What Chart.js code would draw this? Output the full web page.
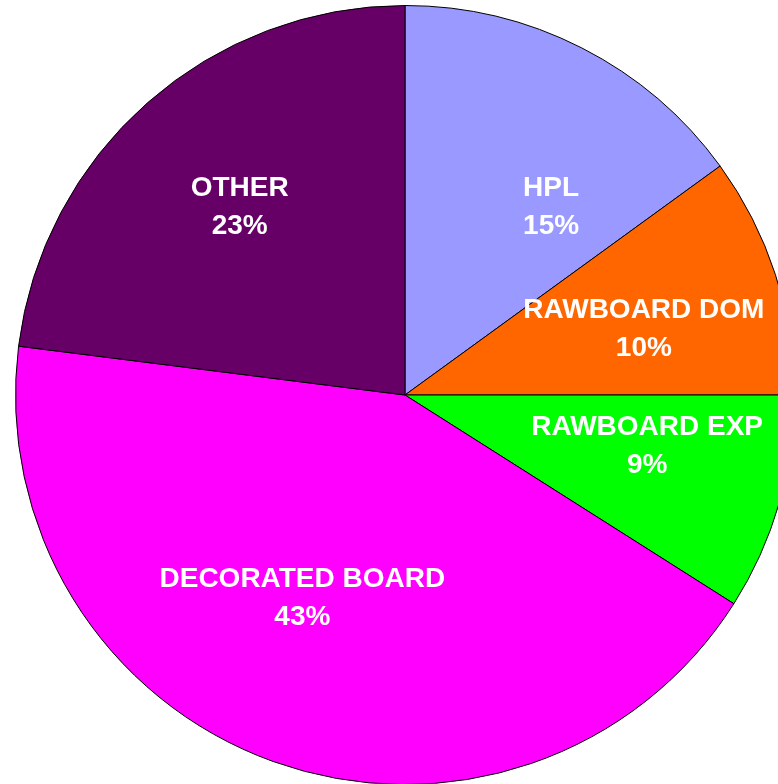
<!DOCTYPE html>
<html>
<head>
<meta charset="utf-8">
<script src="https://cdn.jsdelivr.net/npm/chart.js@4.4.0/dist/chart.umd.min.js"></script>
<style>
  html, body { margin: 0; padding: 0; background: #ffffff; overflow: hidden; width: 778px; height: 784px; }
  #wrap { position: absolute; left: 5px; top: -5px; width: 800px; height: 800px; }
</style>
</head>
<body>
<div id="wrap"><canvas id="pie" width="800" height="800"></canvas></div>
<script>
// 제품별 비중 (%)
const categories = ['HPL', 'RAWBOARD DOM', 'RAWBOARD EXP', 'DECORATED BOARD', 'OTHER'];
const shares = [15, 10, 9, 43, 23];
const sliceColors = ['#9999FF', '#FF6600', '#00FF00', '#FF00FF', '#660066'];

// 라벨 위치 미세 조정 (px)
const labelNudge = [[34, 32], [4, 11], [5, -18], [-19, -29], [-2, -2]];

// 조각 안쪽에 이름과 퍼센트를 두 줄로 그림
const sliceLabels = {
    id: 'sliceLabels',
    afterDatasetsDraw(chart) {
        const ctx = chart.ctx;
        const meta = chart.getDatasetMeta(0);
        ctx.save();
        ctx.fillStyle = '#ffffff';
        ctx.font = 'bold 28px "Liberation Sans", Arial, sans-serif';
        ctx.textAlign = 'center';
        ctx.textBaseline = 'middle';
        meta.data.forEach((arc, i) => {
            const p = arc.getProps(['x', 'y', 'startAngle', 'endAngle', 'outerRadius'], true);
            const mid = (p.startAngle + p.endAngle) / 2;
            const r = p.outerRadius * 0.634;
            const cx = p.x + Math.cos(mid) * r + labelNudge[i][0];
            const cy = p.y + Math.sin(mid) * r + labelNudge[i][1];
            ctx.fillText(categories[i], cx, cy - 19);
            ctx.fillText(shares[i] + '%', cx, cy + 19);
        });
        ctx.restore();
    }
};

new Chart(document.getElementById('pie'), {
    type: 'pie',
    data: {
        labels: categories,
        datasets: [{
            data: shares,
            backgroundColor: sliceColors,
            borderColor: '#000000',
            borderWidth: 1,
        }]
    },
    options: {
        responsive: false,
        animation: false,
        layout: { padding: 10 },
        plugins: {
            legend: { display: false },
            tooltip: { enabled: false }
        }
    },
    plugins: [sliceLabels]
});
</script>
</body>
</html>
